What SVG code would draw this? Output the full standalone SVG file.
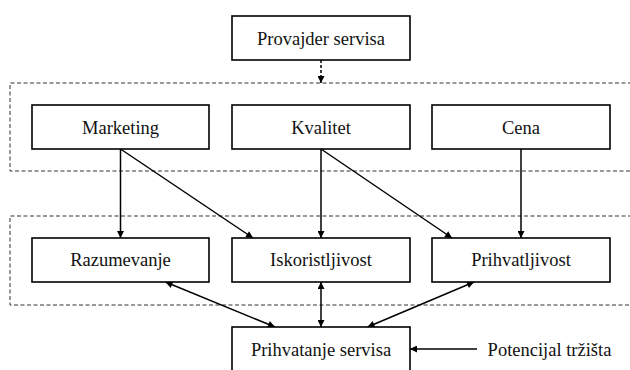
<svg xmlns="http://www.w3.org/2000/svg" width="630" height="370" viewBox="0 0 630 370">
  <style>
    .box { fill: #fff; stroke: #000; stroke-width: 1.6; }
    .grp { fill: none; stroke: #333; stroke-width: 1; stroke-dasharray: 4 2.5; }
    .lbl { font-family: "Liberation Serif", "Times New Roman", serif; font-size: 18.5px; fill: #111; text-anchor: middle; }
    .edge { fill: none; stroke: #000; stroke-width: 1.5; }
    .dash { stroke-dasharray: 3 2; }
  </style>
  <defs>
    <marker id="ah" viewBox="0 0 10 10" refX="10" refY="5" markerWidth="8" markerHeight="7" orient="auto-start-reverse" markerUnits="userSpaceOnUse">
      <path d="M0,0 L10,5 L0,10 z" fill="#000"/>
    </marker>
  </defs>
  <rect width="630" height="370" fill="#fff"/>

  <!-- dashed grouping frames (open on the right) -->
  <g id="groups">
    <path class="grp" d="M632,83 H10 V171 H632"/>
    <path class="grp" d="M632,216 H10 V305 H632"/>
  </g>

  <g id="connectors">
    <line class="edge dash" x1="321" y1="60" x2="321" y2="83" marker-end="url(#ah)"/>
    <line class="edge" x1="120.5" y1="149" x2="120.5" y2="238" marker-end="url(#ah)"/>
    <line class="edge" x1="120.5" y1="149" x2="253" y2="238" marker-end="url(#ah)"/>
    <line class="edge" x1="321" y1="149" x2="321" y2="238" marker-end="url(#ah)"/>
    <line class="edge" x1="321" y1="149" x2="452" y2="238" marker-end="url(#ah)"/>
    <line class="edge" x1="521" y1="149" x2="521" y2="238" marker-end="url(#ah)"/>
    <line class="edge" x1="165.5" y1="282" x2="275" y2="327" marker-start="url(#ah)" marker-end="url(#ah)"/>
    <line class="edge" x1="321" y1="282" x2="321" y2="327" marker-start="url(#ah)" marker-end="url(#ah)"/>
    <line class="edge" x1="474" y1="282" x2="367.5" y2="327" marker-start="url(#ah)" marker-end="url(#ah)"/>
    <line class="edge" x1="477" y1="349" x2="410" y2="349" marker-end="url(#ah)"/>
  </g>

  <g id="provajder">
    <rect class="box" x="232" y="16" width="178" height="44"/>
    <text class="lbl" x="321" y="44.5">Provajder servisa</text>
  </g>
  <g id="marketing">
    <rect class="box" x="32" y="105" width="177" height="44"/>
    <text class="lbl" x="120.5" y="133.5">Marketing</text>
  </g>
  <g id="kvalitet">
    <rect class="box" x="232" y="105" width="178" height="44"/>
    <text class="lbl" x="321" y="133.5">Kvalitet</text>
  </g>
  <g id="cena">
    <rect class="box" x="432" y="105" width="178" height="44"/>
    <text class="lbl" x="521" y="133.5">Cena</text>
  </g>
  <g id="razumevanje">
    <rect class="box" x="32" y="238" width="177" height="44"/>
    <text class="lbl" x="120.5" y="266">Razumevanje</text>
  </g>
  <g id="iskoristljivost">
    <rect class="box" x="232" y="238" width="178" height="44"/>
    <text class="lbl" x="321" y="266">Iskoristljivost</text>
  </g>
  <g id="prihvatljivost">
    <rect class="box" x="432" y="238" width="178" height="44"/>
    <text class="lbl" x="521" y="266">Prihvatljivost</text>
  </g>
  <g id="prihvatanje">
    <rect class="box" x="232" y="327" width="178" height="60"/>
    <text class="lbl" x="321" y="355.5">Prihvatanje servisa</text>
  </g>
  <g id="potencijal">
    <text class="lbl" x="549.5" y="355.5">Potencijal tržišta</text>
  </g>
</svg>
